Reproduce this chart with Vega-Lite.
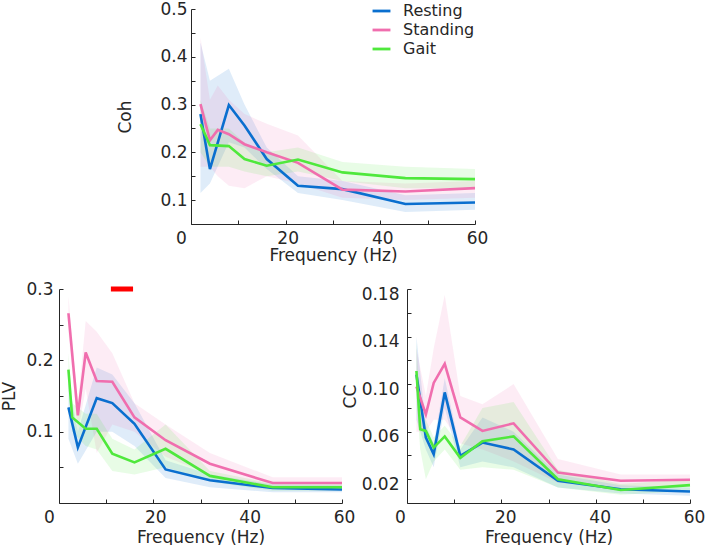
{
  "$schema": "https://vega.github.io/schema/vega-lite/v6.json",
  "padding": {"left": 0, "top": 0, "right": 5, "bottom": 0},
  "background": "white",
  "config": {
    "view": {"stroke": null},
    "font": "DejaVu Sans",
    "axis": {
      "domainColor": "#262626", "tickColor": "#262626", "labelColor": "#262626", "titleColor": "#262626",
      "labelFont": "DejaVu Sans", "titleFont": "DejaVu Sans", "labelFontSize": 17, "titleFontSize": 17,
      "titleFontWeight": "normal", "grid": false, "tickSize": -4, "labelFlush": false, "labelOverlap": false,
      "domainWidth": 1, "tickWidth": 1
    },
    "legend": {
      "orient": "none", "legendX": 312, "legendY": -8.5, "symbolType": "stroke", "symbolSize": 320, "symbolStrokeWidth": 2.8,
      "labelFontSize": 16, "labelFont": "DejaVu Sans", "labelColor": "#262626", "rowPadding": 0, "labelOffset": 11, "padding": 0, "symbolOffset": 0
    }
  },
  "datasets": {
    "d": [
      {"panel": "Coh", "series": "Resting", "f": 2, "m": 0.280, "lo": 0.115, "hi": 0.43},
      {"panel": "Coh", "series": "Resting", "f": 4, "m": 0.165, "lo": 0.135, "hi": 0.35},
      {"panel": "Coh", "series": "Resting", "f": 8, "m": 0.299, "lo": 0.221, "hi": 0.375},
      {"panel": "Coh", "series": "Resting", "f": 11.3, "m": 0.256, "lo": 0.21, "hi": 0.30},
      {"panel": "Coh", "series": "Resting", "f": 16, "m": 0.186, "lo": 0.165, "hi": 0.21},
      {"panel": "Coh", "series": "Resting", "f": 22.6, "m": 0.130, "lo": 0.115, "hi": 0.15},
      {"panel": "Coh", "series": "Resting", "f": 32, "m": 0.123, "lo": 0.10, "hi": 0.14},
      {"panel": "Coh", "series": "Resting", "f": 45.3, "m": 0.092, "lo": 0.075, "hi": 0.11},
      {"panel": "Coh", "series": "Resting", "f": 60, "m": 0.095, "lo": 0.08, "hi": 0.115},
      {"panel": "Coh", "series": "Standing", "f": 2, "m": 0.301, "lo": 0.17, "hi": 0.44},
      {"panel": "Coh", "series": "Standing", "f": 4, "m": 0.225, "lo": 0.17, "hi": 0.31},
      {"panel": "Coh", "series": "Standing", "f": 5.66, "m": 0.247, "lo": 0.15, "hi": 0.34},
      {"panel": "Coh", "series": "Standing", "f": 8, "m": 0.238, "lo": 0.13, "hi": 0.31},
      {"panel": "Coh", "series": "Standing", "f": 11.3, "m": 0.217, "lo": 0.125, "hi": 0.28},
      {"panel": "Coh", "series": "Standing", "f": 16, "m": 0.200, "lo": 0.15, "hi": 0.26},
      {"panel": "Coh", "series": "Standing", "f": 22.6, "m": 0.178, "lo": 0.135, "hi": 0.235},
      {"panel": "Coh", "series": "Standing", "f": 32, "m": 0.122, "lo": 0.105, "hi": 0.14},
      {"panel": "Coh", "series": "Standing", "f": 45.3, "m": 0.118, "lo": 0.10, "hi": 0.135},
      {"panel": "Coh", "series": "Standing", "f": 60, "m": 0.125, "lo": 0.105, "hi": 0.14},
      {"panel": "Coh", "series": "Gait", "f": 2, "m": 0.259, "lo": 0.20, "hi": 0.31},
      {"panel": "Coh", "series": "Gait", "f": 4, "m": 0.215, "lo": 0.17, "hi": 0.25},
      {"panel": "Coh", "series": "Gait", "f": 8, "m": 0.213, "lo": 0.17, "hi": 0.25},
      {"panel": "Coh", "series": "Gait", "f": 11.3, "m": 0.186, "lo": 0.16, "hi": 0.22},
      {"panel": "Coh", "series": "Gait", "f": 16, "m": 0.172, "lo": 0.15, "hi": 0.20},
      {"panel": "Coh", "series": "Gait", "f": 22.6, "m": 0.185, "lo": 0.16, "hi": 0.21},
      {"panel": "Coh", "series": "Gait", "f": 32, "m": 0.158, "lo": 0.14, "hi": 0.18},
      {"panel": "Coh", "series": "Gait", "f": 45.3, "m": 0.146, "lo": 0.125, "hi": 0.17},
      {"panel": "Coh", "series": "Gait", "f": 60, "m": 0.144, "lo": 0.125, "hi": 0.165},

      {"panel": "PLV", "series": "Resting", "f": 2, "m": 0.134, "lo": 0.09, "hi": 0.17},
      {"panel": "PLV", "series": "Resting", "f": 4, "m": 0.078, "lo": 0.055, "hi": 0.10},
      {"panel": "PLV", "series": "Resting", "f": 8, "m": 0.147, "lo": 0.10, "hi": 0.19},
      {"panel": "PLV", "series": "Resting", "f": 11.3, "m": 0.140, "lo": 0.10, "hi": 0.18},
      {"panel": "PLV", "series": "Resting", "f": 16, "m": 0.111, "lo": 0.08, "hi": 0.14},
      {"panel": "PLV", "series": "Resting", "f": 22.6, "m": 0.047, "lo": 0.035, "hi": 0.06},
      {"panel": "PLV", "series": "Resting", "f": 32, "m": 0.032, "lo": 0.022, "hi": 0.04},
      {"panel": "PLV", "series": "Resting", "f": 45.3, "m": 0.021, "lo": 0.015, "hi": 0.026},
      {"panel": "PLV", "series": "Resting", "f": 60, "m": 0.019, "lo": 0.015, "hi": 0.025},
      {"panel": "PLV", "series": "Standing", "f": 2, "m": 0.266, "lo": 0.24, "hi": 0.29},
      {"panel": "PLV", "series": "Standing", "f": 4, "m": 0.123, "lo": 0.10, "hi": 0.14},
      {"panel": "PLV", "series": "Standing", "f": 5.66, "m": 0.211, "lo": 0.16, "hi": 0.255},
      {"panel": "PLV", "series": "Standing", "f": 8, "m": 0.171, "lo": 0.07, "hi": 0.24},
      {"panel": "PLV", "series": "Standing", "f": 11.3, "m": 0.170, "lo": 0.11, "hi": 0.21},
      {"panel": "PLV", "series": "Standing", "f": 16, "m": 0.120, "lo": 0.10, "hi": 0.14},
      {"panel": "PLV", "series": "Standing", "f": 22.6, "m": 0.088, "lo": 0.065, "hi": 0.11},
      {"panel": "PLV", "series": "Standing", "f": 32, "m": 0.055, "lo": 0.04, "hi": 0.07},
      {"panel": "PLV", "series": "Standing", "f": 45.3, "m": 0.028, "lo": 0.022, "hi": 0.036},
      {"panel": "PLV", "series": "Standing", "f": 60, "m": 0.028, "lo": 0.022, "hi": 0.036},
      {"panel": "PLV", "series": "Gait", "f": 2, "m": 0.187, "lo": 0.16, "hi": 0.21},
      {"panel": "PLV", "series": "Gait", "f": 2.8, "m": 0.120, "lo": 0.10, "hi": 0.14},
      {"panel": "PLV", "series": "Gait", "f": 5.66, "m": 0.104, "lo": 0.08, "hi": 0.125},
      {"panel": "PLV", "series": "Gait", "f": 8, "m": 0.104, "lo": 0.075, "hi": 0.125},
      {"panel": "PLV", "series": "Gait", "f": 11.3, "m": 0.069, "lo": 0.045, "hi": 0.09},
      {"panel": "PLV", "series": "Gait", "f": 16, "m": 0.057, "lo": 0.04, "hi": 0.075},
      {"panel": "PLV", "series": "Gait", "f": 22.6, "m": 0.076, "lo": 0.05, "hi": 0.11},
      {"panel": "PLV", "series": "Gait", "f": 32, "m": 0.038, "lo": 0.03, "hi": 0.045},
      {"panel": "PLV", "series": "Gait", "f": 45.3, "m": 0.022, "lo": 0.017, "hi": 0.027},
      {"panel": "PLV", "series": "Gait", "f": 60, "m": 0.022, "lo": 0.017, "hi": 0.027},

      {"panel": "CC", "series": "Resting", "f": 2, "m": 0.108, "lo": 0.07, "hi": 0.14},
      {"panel": "CC", "series": "Resting", "f": 4, "m": 0.055, "lo": 0.045, "hi": 0.065},
      {"panel": "CC", "series": "Resting", "f": 5.66, "m": 0.041, "lo": 0.03, "hi": 0.05},
      {"panel": "CC", "series": "Resting", "f": 8, "m": 0.093, "lo": 0.08, "hi": 0.105},
      {"panel": "CC", "series": "Resting", "f": 11.3, "m": 0.0396, "lo": 0.03, "hi": 0.045},
      {"panel": "CC", "series": "Resting", "f": 16, "m": 0.0508, "lo": 0.035, "hi": 0.072},
      {"panel": "CC", "series": "Resting", "f": 22.6, "m": 0.045, "lo": 0.03, "hi": 0.06},
      {"panel": "CC", "series": "Resting", "f": 32, "m": 0.0187, "lo": 0.013, "hi": 0.024},
      {"panel": "CC", "series": "Resting", "f": 45.3, "m": 0.0116, "lo": 0.008, "hi": 0.015},
      {"panel": "CC", "series": "Resting", "f": 60, "m": 0.0097, "lo": 0.006, "hi": 0.013},
      {"panel": "CC", "series": "Standing", "f": 2, "m": 0.098, "lo": 0.06, "hi": 0.13},
      {"panel": "CC", "series": "Standing", "f": 4, "m": 0.0745, "lo": 0.06, "hi": 0.09},
      {"panel": "CC", "series": "Standing", "f": 5.66, "m": 0.101, "lo": 0.07, "hi": 0.13},
      {"panel": "CC", "series": "Standing", "f": 8, "m": 0.117, "lo": 0.07, "hi": 0.175},
      {"panel": "CC", "series": "Standing", "f": 11.3, "m": 0.072, "lo": 0.05, "hi": 0.09},
      {"panel": "CC", "series": "Standing", "f": 16, "m": 0.0606, "lo": 0.045, "hi": 0.083},
      {"panel": "CC", "series": "Standing", "f": 22.6, "m": 0.067, "lo": 0.035, "hi": 0.10},
      {"panel": "CC", "series": "Standing", "f": 32, "m": 0.0256, "lo": 0.017, "hi": 0.037},
      {"panel": "CC", "series": "Standing", "f": 45.3, "m": 0.0187, "lo": 0.013, "hi": 0.024},
      {"panel": "CC", "series": "Standing", "f": 60, "m": 0.0195, "lo": 0.014, "hi": 0.024},
      {"panel": "CC", "series": "Gait", "f": 2, "m": 0.111, "lo": 0.09, "hi": 0.135},
      {"panel": "CC", "series": "Gait", "f": 2.8, "m": 0.062, "lo": 0.045, "hi": 0.075},
      {"panel": "CC", "series": "Gait", "f": 4, "m": 0.0606, "lo": 0.02, "hi": 0.07},
      {"panel": "CC", "series": "Gait", "f": 5.66, "m": 0.0466, "lo": 0.035, "hi": 0.055},
      {"panel": "CC", "series": "Gait", "f": 8, "m": 0.056, "lo": 0.045, "hi": 0.065},
      {"panel": "CC", "series": "Gait", "f": 11.3, "m": 0.038, "lo": 0.028, "hi": 0.048},
      {"panel": "CC", "series": "Gait", "f": 16, "m": 0.052, "lo": 0.03, "hi": 0.08},
      {"panel": "CC", "series": "Gait", "f": 22.6, "m": 0.056, "lo": 0.028, "hi": 0.085},
      {"panel": "CC", "series": "Gait", "f": 32, "m": 0.020, "lo": 0.013, "hi": 0.028},
      {"panel": "CC", "series": "Gait", "f": 45.3, "m": 0.011, "lo": 0.007, "hi": 0.016},
      {"panel": "CC", "series": "Gait", "f": 60, "m": 0.015, "lo": 0.01, "hi": 0.02}
    ],
    "sig": [{"f": 11, "f2": 15.7, "m": 0.3}]
  },
  "spacing": 17,
  "vconcat": [
    {
      "bounds": "flush",
      "spacing": 0,
      "hconcat": [
        {"width": 132, "height": 215, "data": {"values": []}, "mark": "point"},
        {
          "width": 284, "height": 215,
          "data": {"name": "d"},
          "transform": [{"filter": "datum.panel == 'Coh'"}],
          "encoding": {
            "x": {"field": "f", "type": "quantitative", "scale": {"domain": [0, 60], "nice": false, "zero": false},
              "axis": {"values": [0, 10, 20, 30, 40, 50, 60], "labelExpr": "datum.value % 20 == 0 ? datum.label : ''", "labelPadding": 10, "title": "Frequency (Hz)", "titlePadding": 1,
                "labelOffset": {"condition": {"test": "datum.value == 0", "value": -10}, "value": 2}}}
          },
          "layer": [
            {
              "mark": {"type": "area", "fillOpacity": 0.13},
              "encoding": {
                "y": {"field": "lo", "type": "quantitative", "scale": {"domain": [0.05, 0.5], "nice": false, "zero": false},
                  "axis": {"values": [0.05, 0.1, 0.15, 0.2, 0.25, 0.3, 0.35, 0.4, 0.45, 0.5], "labelExpr": "round(datum.value*100) % 10 == 0 ? format(datum.value, '.1f') : ''", "labelPadding": 8, "title": "Coh", "titlePadding": 25}},
                "y2": {"field": "hi"},
                "fill": {"field": "series", "type": "nominal", "scale": {"domain": ["Gait", "Resting", "Standing"], "range": ["#4fe83c", "#0a6fcf", "#f06eae"]}, "legend": null}
              }
            },
            {
              "mark": {"type": "line", "strokeWidth": 2.6},
              "encoding": {
                "y": {"field": "m", "type": "quantitative", "scale": {"domain": [0.05, 0.5], "nice": false, "zero": false},
                  "axis": {"values": [0.05, 0.1, 0.15, 0.2, 0.25, 0.3, 0.35, 0.4, 0.45, 0.5], "labelExpr": "round(datum.value*100) % 10 == 0 ? format(datum.value, '.1f') : ''", "labelPadding": 8, "title": "Coh", "titlePadding": 25}},
                "color": {"field": "series", "type": "nominal", "scale": {"domain": ["Resting", "Standing", "Gait"], "range": ["#0a6fcf", "#f06eae", "#4fe83c"]}, "legend": {"title": null}}
              }
            }
          ]
        }
      ]
    },
    {
      "bounds": "flush",
      "spacing": 65,
      "hconcat": [
        {
          "width": 283, "height": 214,
          "encoding": {
            "x": {"field": "f", "type": "quantitative", "scale": {"domain": [0, 60], "nice": false, "zero": false},
              "axis": {"values": [0, 10, 20, 30, 40, 50, 60], "labelExpr": "datum.value % 20 == 0 ? datum.label : ''", "labelPadding": 10, "title": "Frequency (Hz)", "titlePadding": 4,
                "labelOffset": {"condition": {"test": "datum.value == 0", "value": -10}, "value": 2}}}
          },
          "layer": [
            {
              "data": {"name": "d"},
              "transform": [{"filter": "datum.panel == 'PLV'"}],
              "mark": {"type": "area", "fillOpacity": 0.13},
              "encoding": {
                "y": {"field": "lo", "type": "quantitative", "scale": {"domain": [0, 0.3], "nice": false, "zero": false},
                  "axis": {"values": [0.05, 0.1, 0.15, 0.2, 0.25, 0.3], "labelExpr": "round(datum.value*100) % 10 == 0 ? format(datum.value, '.1f') : ''", "labelPadding": 10, "title": "PLV", "titlePadding": 7}},
                "y2": {"field": "hi"},
                "fill": {"field": "series", "type": "nominal", "scale": {"domain": ["Gait", "Resting", "Standing"], "range": ["#4fe83c", "#0a6fcf", "#f06eae"]}, "legend": null}
              }
            },
            {
              "data": {"name": "d"},
              "transform": [{"filter": "datum.panel == 'PLV'"}],
              "mark": {"type": "line", "strokeWidth": 2.6},
              "encoding": {
                "y": {"field": "m", "type": "quantitative", "scale": {"domain": [0, 0.3], "nice": false, "zero": false},
                  "axis": {"values": [0.05, 0.1, 0.15, 0.2, 0.25, 0.3], "labelExpr": "round(datum.value*100) % 10 == 0 ? format(datum.value, '.1f') : ''", "labelPadding": 10, "title": "PLV", "titlePadding": 7}},
                "color": {"field": "series", "type": "nominal", "scale": {"domain": ["Resting", "Standing", "Gait"], "range": ["#0a6fcf", "#f06eae", "#4fe83c"]}, "legend": {"title": null}}
              }
            },
            {
              "data": {"name": "sig"},
              "mark": {"type": "rule", "strokeWidth": 5, "color": "#ff0000", "clip": false},
              "encoding": {
                "x2": {"field": "f2"},
                "y": {"field": "m", "type": "quantitative", "scale": {"domain": [0, 0.3], "nice": false, "zero": false},
                  "axis": {"values": [0.05, 0.1, 0.15, 0.2, 0.25, 0.3], "labelExpr": "round(datum.value*100) % 10 == 0 ? format(datum.value, '.1f') : ''", "labelPadding": 10, "title": "PLV", "titlePadding": 7}}
              }
            }
          ]
        },
        {
          "width": 283, "height": 214,
          "data": {"name": "d"},
          "transform": [{"filter": "datum.panel == 'CC'"}],
          "encoding": {
            "x": {"field": "f", "type": "quantitative", "scale": {"domain": [0, 60], "nice": false, "zero": false},
              "axis": {"values": [0, 10, 20, 30, 40, 50, 60], "labelExpr": "datum.value % 20 == 0 ? datum.label : ''", "labelPadding": 10, "title": "Frequency (Hz)", "titlePadding": 4,
                "labelOffset": {"condition": {"test": "datum.value == 0", "value": -7}, "value": 4}}}
          },
          "layer": [
            {
              "mark": {"type": "area", "fillOpacity": 0.13},
              "encoding": {
                "y": {"field": "lo", "type": "quantitative", "scale": {"domain": [0, 0.18], "nice": false, "zero": false},
                  "axis": {"values": [0.02, 0.04, 0.06, 0.08, 0.1, 0.12, 0.14, 0.16, 0.18], "labelExpr": "round(datum.value*100) % 4 == 2 ? format(datum.value, '.2f') : ''", "labelPadding": 12, "labelOffset": 5, "title": "CC", "titlePadding": 2}},
                "y2": {"field": "hi"},
                "fill": {"field": "series", "type": "nominal", "scale": {"domain": ["Gait", "Resting", "Standing"], "range": ["#4fe83c", "#0a6fcf", "#f06eae"]}, "legend": null}
              }
            },
            {
              "mark": {"type": "line", "strokeWidth": 2.6},
              "encoding": {
                "y": {"field": "m", "type": "quantitative", "scale": {"domain": [0, 0.18], "nice": false, "zero": false},
                  "axis": {"values": [0.02, 0.04, 0.06, 0.08, 0.1, 0.12, 0.14, 0.16, 0.18], "labelExpr": "round(datum.value*100) % 4 == 2 ? format(datum.value, '.2f') : ''", "labelPadding": 12, "labelOffset": 5, "title": "CC", "titlePadding": 2}},
                "color": {"field": "series", "type": "nominal", "scale": {"domain": ["Resting", "Standing", "Gait"], "range": ["#0a6fcf", "#f06eae", "#4fe83c"]}, "legend": {"title": null}}
              }
            }
          ]
        }
      ]
    }
  ],
  "resolve": {"scale": {"x": "independent", "y": "independent"}}
}
